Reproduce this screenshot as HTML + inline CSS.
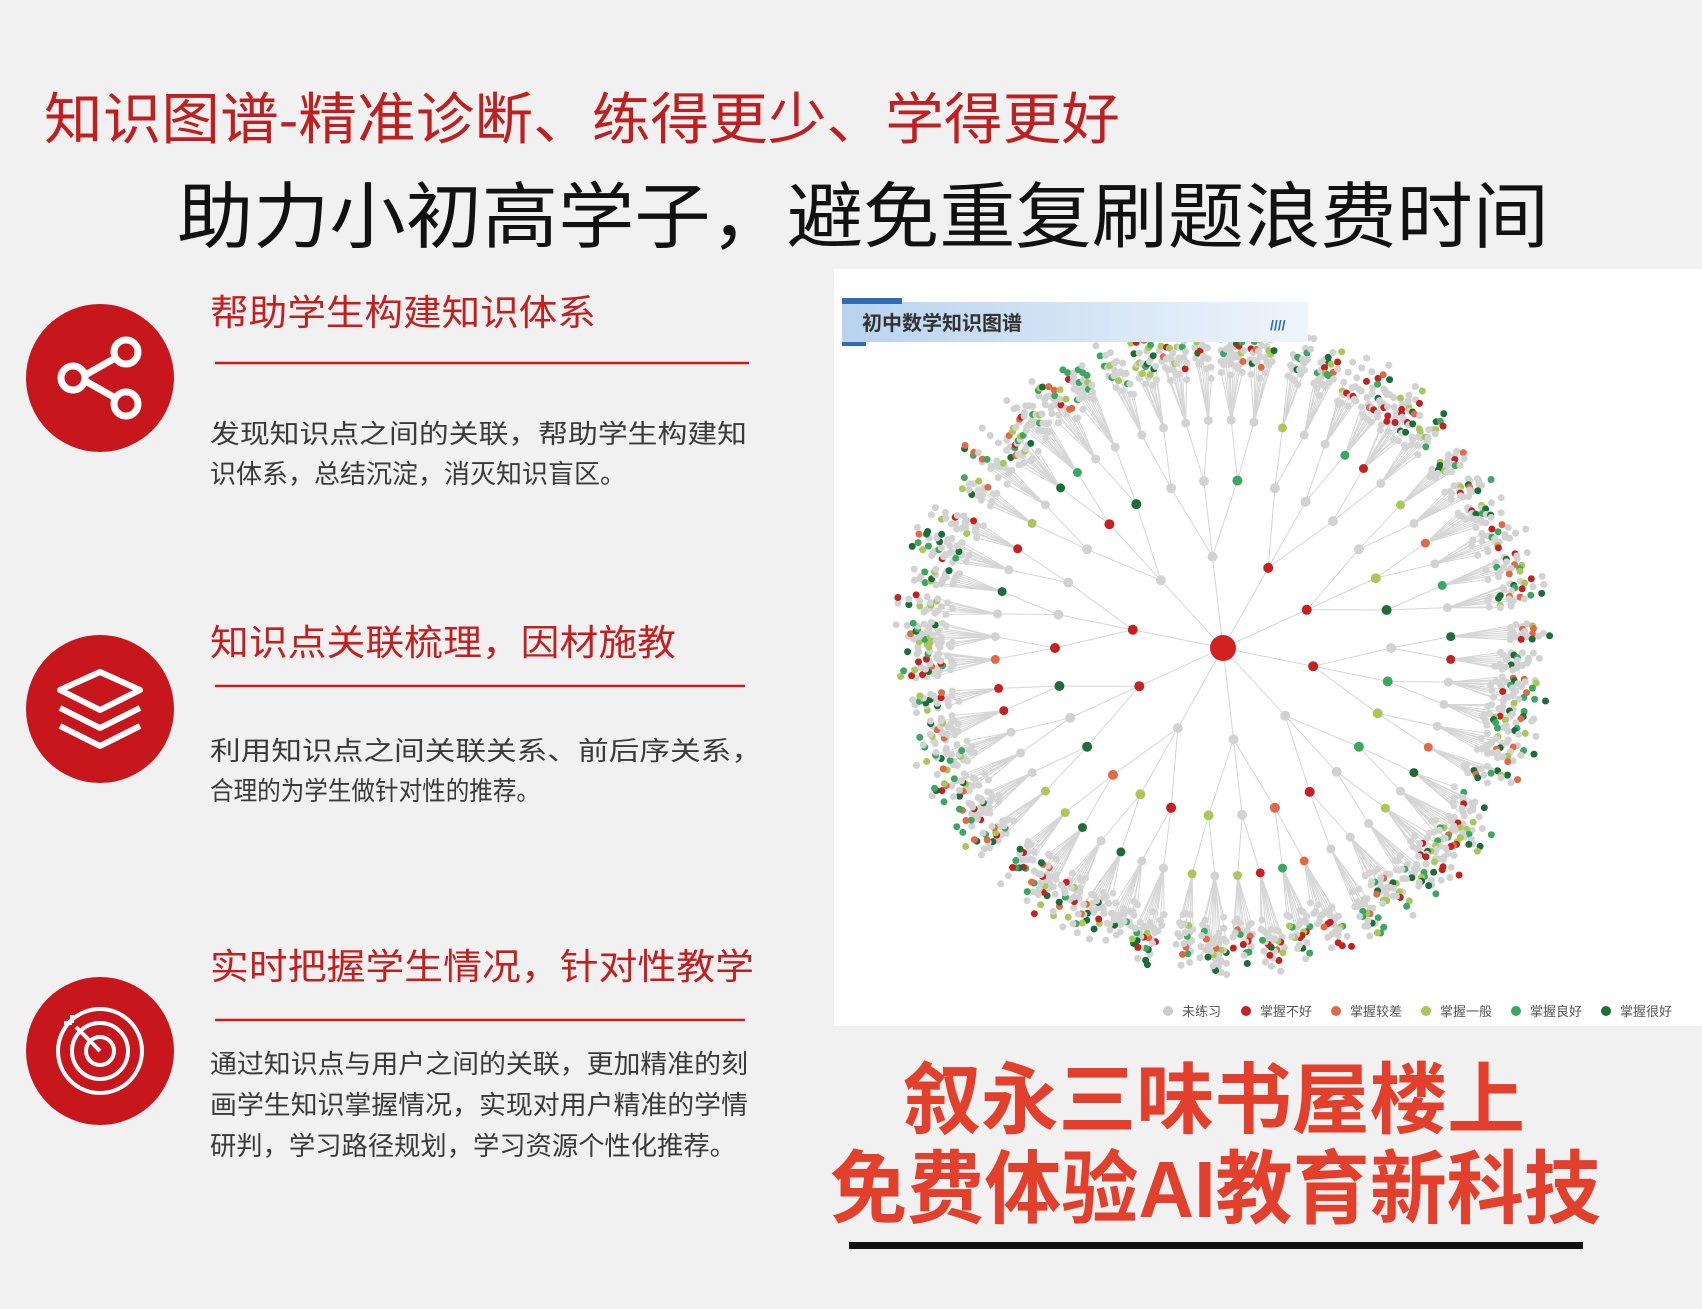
<!DOCTYPE html>
<html><head><meta charset="utf-8"><style>
html,body{margin:0;padding:0;background:#f1f1f1;}
svg{display:block}
text{font-family:"Liberation Sans","Noto Sans CJK SC",sans-serif;}
</style></head><body>
<svg id="s" width="1702" height="1309" viewBox="0 0 1702 1309" xmlns="http://www.w3.org/2000/svg">
<rect width="1702" height="1309" fill="#f1f1f1"/>
<text x="44" y="139" font-size="56" fill="#c01f1f" textLength="1076" lengthAdjust="spacingAndGlyphs">知识图谱-精准诊断、练得更少、学得更好</text>
<text x="177" y="242" font-size="72" fill="#111" textLength="1372" lengthAdjust="spacingAndGlyphs">助力小初高学子，避免重复刷题浪费时间</text>

<circle cx="100" cy="378" r="74" fill="#c8161d"/>
<g stroke="#fff" stroke-width="7" fill="none">
<line x1="80" y1="378" x2="126" y2="352"/><line x1="80" y1="378" x2="126" y2="404"/>
<circle cx="126" cy="352" r="12" fill="#c8161d"/><circle cx="126" cy="404" r="12" fill="#c8161d"/><circle cx="73" cy="378" r="12" fill="#c8161d"/>
</g>
<text x="210" y="325" font-size="36" fill="#c41f1f" textLength="386" lengthAdjust="spacingAndGlyphs">帮助学生构建知识体系</text>
<line x1="215" y1="363" x2="749" y2="363" stroke="#c41f1f" stroke-width="2.5"/>
<text x="210" y="443" font-size="26" fill="#3a3a3a" textLength="537" lengthAdjust="spacingAndGlyphs">发现知识点之间的关联，帮助学生构建知</text>
<text x="210" y="483" font-size="26" fill="#3a3a3a">识体系，总结沉淀，消灭知识盲区。</text>

<circle cx="100" cy="709" r="74" fill="#c8161d"/>
<g stroke="#fff" stroke-width="6" fill="none" stroke-linejoin="round">
<path d="M60 690 L100 672 L140 690 L100 710 Z"/>
<path d="M60 708 L100 728 L140 708"/>
<path d="M60 726 L100 746 L140 726"/>
</g>
<text x="210" y="655" font-size="36" fill="#c41f1f" textLength="466" lengthAdjust="spacingAndGlyphs">知识点关联梳理，因材施教</text>
<line x1="215" y1="686" x2="745" y2="686" stroke="#c41f1f" stroke-width="2.5"/>
<text x="210" y="760" font-size="26" fill="#3a3a3a" textLength="552" lengthAdjust="spacingAndGlyphs">利用知识点之间关联关系、前后序关系，</text>
<text x="210" y="800" font-size="26" fill="#3a3a3a" textLength="330" lengthAdjust="spacingAndGlyphs">合理的为学生做针对性的推荐。</text>

<circle cx="100" cy="1051" r="74" fill="#c8161d"/>
<g stroke="#fff" stroke-width="4" fill="none">
<circle cx="100" cy="1051" r="42"/><circle cx="100" cy="1051" r="28"/><circle cx="100" cy="1051" r="14"/>
<line x1="100" y1="1051" x2="76" y2="1027"/><path d="M72 1023 l-8 0 M72 1023 l0 -8"/>
</g>
<text x="210" y="979" font-size="36" fill="#c41f1f" textLength="544" lengthAdjust="spacingAndGlyphs">实时把握学生情况，针对性教学</text>
<line x1="215" y1="1020" x2="745" y2="1020" stroke="#c41f1f" stroke-width="2.5"/>
<text x="210" y="1073" font-size="26" fill="#3a3a3a" textLength="538" lengthAdjust="spacingAndGlyphs">通过知识点与用户之间的关联，更加精准的刻</text>
<text x="210" y="1114" font-size="26" fill="#3a3a3a" textLength="538" lengthAdjust="spacingAndGlyphs">画学生知识掌握情况，实现对用户精准的学情</text>
<text x="210" y="1155" font-size="26" fill="#3a3a3a" textLength="526" lengthAdjust="spacingAndGlyphs">研判，学习路径规划，学习资源个性化推荐。</text>

<rect x="834" y="269" width="868" height="757" fill="#fff"/>
<g id="graph"></g>
<defs><linearGradient id="hg" x1="0" x2="1"><stop offset="0" stop-color="#b9d3ee"/><stop offset="1" stop-color="#eef5fc"/></linearGradient></defs>
<rect x="842" y="302" width="466" height="40" fill="url(#hg)"/>
<rect x="842" y="298" width="60" height="6" fill="#2e6db4"/>
<rect x="842" y="342" width="24" height="4" fill="#2e6db4"/>
<text x="862" y="330" font-size="20" font-weight="bold" fill="#333">初中数学知识图谱</text>
<text x="1270" y="330" font-size="14" fill="#2e6db4" font-weight="bold">////</text>

<g font-size="13" fill="#555">
<circle cx="1168" cy="1011" r="5" fill="#ccc"/><text x="1182" y="1016">未练习</text>
<circle cx="1246" cy="1011" r="5" fill="#c62020"/><text x="1260" y="1016">掌握不好</text>
<circle cx="1336" cy="1011" r="5" fill="#e06a45"/><text x="1350" y="1016">掌握较差</text>
<circle cx="1426" cy="1011" r="5" fill="#a8c85a"/><text x="1440" y="1016">掌握一般</text>
<circle cx="1516" cy="1011" r="5" fill="#3aa860"/><text x="1530" y="1016">掌握良好</text>
<circle cx="1606" cy="1011" r="5" fill="#1c6e36"/><text x="1620" y="1016">掌握很好</text>
</g>

<text x="903" y="1127" font-size="78" font-weight="bold" fill="#e2402c" textLength="622" lengthAdjust="spacingAndGlyphs">叙永三味书屋楼上</text>
<text x="830" y="1217" font-size="80" font-weight="bold" fill="#e2402c" textLength="771" lengthAdjust="spacingAndGlyphs">免费体验AI教育新科技</text>
<rect x="849" y="1242" width="734" height="7" fill="#111"/>
</svg>
<script>
(function(){
var g=document.getElementById('graph');
var cx=1223,cy=648,seed=7;
function r(){seed=(seed*16807)%2147483647;return (seed-1)/2147483646;}
var cols=['#d2d2d2','#c62020','#e06a45','#a8c85a','#3aa860','#1c6e36'];
function pick(){var v=r();if(v<0.55)return cols[0];if(v<0.63)return cols[1];if(v<0.69)return cols[2];if(v<0.8)return cols[3];if(v<0.9)return cols[4];return cols[5];}
var lines='',dots='';
function P(a,d){return [cx+Math.cos(a)*d,cy+Math.sin(a)*d];}
function L(p,q){lines+='M'+p[0].toFixed(1)+' '+p[1].toFixed(1)+'L'+q[0].toFixed(1)+' '+q[1].toFixed(1);}
function D(p,rr,c){dots+='<circle cx="'+p[0].toFixed(1)+'" cy="'+p[1].toFixed(1)+'" r="'+rr+'" fill="'+c+'"/>';}
var n1=10;
for(var i=0;i<n1;i++){
 var a1=i/n1*Math.PI*2+0.2; var p1=P(a1,92);L([cx,cy],p1);
 for(var j=0;j<3;j++){
  var a2=a1+(j-1)*0.2; var p2=P(a2,168);L(p1,p2);
  for(var k=0;k<2;k++){
   var a3=a2+(k-0.5)*0.1; var p3=P(a3,228);L(p2,p3);
   var nl=7+Math.floor(r()*5);
   for(var m=0;m<nl;m++){
    var a4=a3+(m-nl/2)*0.0085; var d0=268+r()*28; var p4=P(a4,d0);L(p3,p4);
    var depth=2+Math.floor(r()*3);
    for(var t=0;t<depth;t++){var pp=P(a4,d0+t*11);D(pp,3.5,t<1?'#d4d4d4':pick());}
   }
   D(p3,4.5,pick());
  }
  D(p2,5,pick());
 }
 D(p1,5,r()<0.5?cols[1]:cols[0]);
}
g.innerHTML='<path d="'+lines+'" stroke="#d6d6d6" stroke-width="1" fill="none"/>'+dots+'<circle cx="'+cx+'" cy="'+cy+'" r="13" fill="#d42020"/>';
})();
</script>
</body></html>
